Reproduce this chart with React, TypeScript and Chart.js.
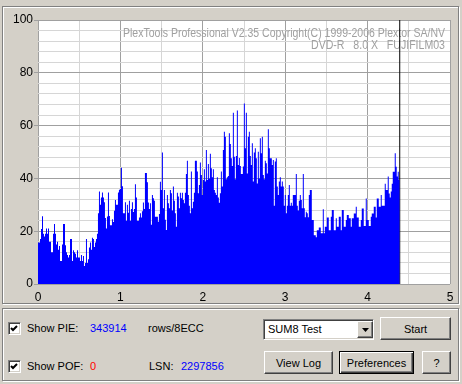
import React, { useEffect, useRef } from "react";
import { Chart, registerables } from "chart.js";

Chart.register(...registerables);

// ---- Data (PIE sum8 per position) ----
const X_MIN = 0;
const X_MAX = 5;
const Y_MIN = 0;
const Y_MAX = 100;
const END_POSITION = 4.39; // black marker line / end of scanned data

const xTickLabels = ["0", "1", "2", "3", "4", "5"];
const yTickLabels = ["0", "20", "40", "60", "80", "100"];

const pieStart = [
  15.7, 17, 20.8, 25.7, 19, 18, 19, 21, 19, 21,
  16, 16, 12, 12, 19, 22.7, 19, 15, 16, 13,
  14.4, 8.7, 8.7, 15, 22.7, 22.7, 14.7, 12, 11, 10,
  11, 17, 17, 8.7, 12.8, 12, 11.5, 10, 12.8, 10,
  10, 8.7, 11, 8.7, 10.6, 6.8, 8, 17, 8, 9.4,
  13.8, 15.7, 13, 17.5, 17, 14, 15.7, 17, 19, 26.8,
  35, 30, 32.8, 34.7, 32.8, 31, 25, 21, 25.6, 34.7,
  25.8, 22.3, 22.3, 24.5, 23.5, 27.7, 31.8, 30, 30, 34.7,
  35.7, 36, 44, 37, 26.8, 26.8, 31, 24, 30, 27,
  31.5, 24, 28.4, 31, 27.3, 28.4, 37.8, 32.8, 24, 24,
  25.2, 26.8, 25.2, 27.6, 30.9, 28.4, 42, 42, 38.5, 30.9,
  28.4,
];

const pieMiddle = [
  30.6, 22.4, 33.7, 32.5, 31.5, 25.5, 25.5, 25.5, 23.6, 26.5,
  38.7, 35.6, 49.8, 28.7, 35.6, 24.3, 20.5, 33.7, 30.6, 28.7,
  35.6, 34.4, 27.8, 36.9, 31.5, 26.8, 21.7, 34.6, 33.1, 28.7,
  34.6, 32.5, 34.6, 31.8, 30.6, 34.6, 41.7, 46.7, 33.7, 29.6,
  26.8, 42.6, 28.7, 31.2, 34.6, 46.7, 46.7, 42.6, 34.4, 37.5,
  46, 41.3, 33.7, 39.4, 43.5, 38.8, 50.8, 39.4, 45.5, 40,
  49.3, 43.8, 40.4, 43.5, 35.6, 34.6, 33.7, 40.4, 32.8, 30.8,
  34.4, 42.6, 36.9, 50.8, 57.7, 55.8, 39.7, 40.4, 40.9, 57.1,
  53, 47.6, 44.7, 64.9, 48.2, 39.7, 48.5, 65.7, 45.1, 47.7,
  44.7, 41.7, 41.7, 44.5, 68.4, 51.4, 64.9, 41.9, 55.8, 57.7,
  48.5, 45.1, 53.3, 38.8, 49.8, 51.4, 47.6, 38.1, 50.1, 40,
  55.2, 49.5, 55.8, 41.3, 39.7, 46.7, 45.7, 41.9, 58.6, 51.4,
  47.6, 47.6, 45.1, 47, 29.6, 46.4, 47.6, 36.9, 33.7, 38.8,
  40.4, 36.9, 38.8, 36.9, 29.6, 33.7, 26.8, 29.6, 33.7, 37.5,
  29.6, 30.8, 29.6, 33.7, 33.7, 33.7, 41.7, 29.6, 27.8, 31.5,
  33.7, 31.8, 28.7, 41.7, 28.7, 25.3, 27.4, 26.8, 25.3, 33.7,
];

const pieLate = [
  35.6, 35.6, 24.2, 24.2, 18.5, 18.5, 17.7, 20.4, 20.4, 21.4,
  21.4, 19.2, 19.2, 28.3, 19.2, 21.7, 21.7,
  25.2, 25.2, 20.4, 20.4, 25.5, 28, 28, 20.4, 20.4, 24.9,
  21.7, 21.7, 25.5, 25.5, 20.4, 28, 28, 21.7, 21.7, 24.2,
  26.1, 26.1, 24.9, 24.9, 21.7, 24.9, 24.9, 26.7, 26.7, 29.3,
  25.2, 25.2, 21.7, 21.7, 24.2, 28.6, 28.6, 22, 22, 32.4,
  24.2, 24.2, 22, 22, 25.5, 26.7, 26.7, 29.3, 29.3, 25.2,
  32.4, 32.4, 29.3, 29.3,
];

const pieEnd = [
  33.7, 29.6, 29.6, 29.6, 38, 35.6, 35.6, 40.7, 34.3, 32.8,
  35, 38, 42.5, 42.5, 49.5, 44.4, 40.7, 42.5, 39.4, 45.4,
];

const titleLine1 = "PlexTools Professional V2.35 Copyright(C) 1999-2006 Plextor SA/NV";
const titleLine2 = "DVD-R   8.0 X   FUJIFILM03";

const PIE_TOTAL = "343914";
const POF_TOTAL = "0";
const LSN_VALUE = "2297856";

// ---- Styles ----
const FACE = "#D4D0C8";
const GRID_MAJOR = "#A0A0A0";
const GRID_MINOR = "#D6D6D6";
const UI_FONT = "'Liberation Sans', Arial, sans-serif";

const raised: React.CSSProperties = {
  position: "absolute",
  boxSizing: "border-box",
  background: FACE,
  borderStyle: "solid",
  borderWidth: 1,
  borderColor: "#FFFFFF #404040 #404040 #FFFFFF",
  boxShadow: "inset -1px -1px 0 #808080",
  display: "flex",
  alignItems: "center",
  justifyContent: "center",
  fontFamily: UI_FONT,
  fontSize: 11,
  color: "#000",
};

const sunken: React.CSSProperties = {
  position: "absolute",
  boxSizing: "border-box",
  background: "#FFFFFF",
  borderStyle: "solid",
  borderWidth: 1,
  borderColor: "#808080 #FFFFFF #FFFFFF #808080",
  boxShadow: "inset 1px 1px 0 #404040, inset -1px -1px 0 " + FACE,
};

function Etched({ x, y, w, h }: { x: number; y: number; w: number; h: number }) {
  return (
    <>
      <div style={{ position: "absolute", left: x + 1, top: y + 1, width: w - 1, height: h - 1, border: "1px solid #FFFFFF", boxSizing: "border-box" }} />
      <div style={{ position: "absolute", left: x, top: y, width: w - 1, height: h - 1, border: "1px solid #808080", boxSizing: "border-box" }} />
    </>
  );
}

function CheckBox({ x, y }: { x: number; y: number }) {
  return (
    <div style={{ ...sunken, left: x, top: y, width: 13, height: 13 }}>
      <svg width="11" height="11" style={{ position: "absolute", left: 0, top: 0 }}>
        <polyline points="2,5 4,7 8,3" fill="none" stroke="#000" strokeWidth="2" />
      </svg>
    </div>
  );
}

function Label({ x, y, text, color }: { x: number; y: number; text: string; color?: string }) {
  return (
    <div style={{ position: "absolute", left: x, top: y - 7, height: 14, lineHeight: "14px", fontFamily: UI_FONT, fontSize: 11, color: color || "#000", whiteSpace: "pre" }}>
      {text}
    </div>
  );
}

function PieChart() {
  const ref = useRef<HTMLCanvasElement | null>(null);
  useEffect(() => {
    if (!ref.current) return;
    const pie = [...pieStart, ...pieMiddle, ...pieLate, ...pieEnd];
    const step = END_POSITION / pie.length;
    const pieData = [{ x: 0, y: pie[0] }, ...pie.map((v, i) => ({ x: (i + 1) * step, y: v }))];

    const bgPlugin = {
      id: "plexBg",
      beforeDraw(chart: any) {
        const { ctx, chartArea: a } = chart;
        ctx.save();
        ctx.fillStyle = "#FFFFFF";
        ctx.fillRect(a.left, a.top, a.right - a.left, a.bottom - a.top);
        ctx.restore();
      },
      beforeDatasetsDraw(chart: any) {
        const { ctx, chartArea: a } = chart;
        ctx.save();
        ctx.fillStyle = "#A0A0A0";
        ctx.font = "13px 'Liberation Sans', Arial, sans-serif";
        ctx.textAlign = "right";
        ctx.textBaseline = "alphabetic";
        ctx.fillText(titleLine1, a.right - 5, a.top + 17, 322);
        ctx.fillText(titleLine2, a.right - 5, a.top + 29, 134);
        ctx.restore();
      },
    };

    const isMajorX = (v: number) => Math.abs(v - Math.round(v)) < 1e-6;
    const isMajorY = (v: number) => Math.round(v) % 20 === 0;

    const chart = new Chart(ref.current, {
      type: "line",
      data: {
        datasets: [
          {
            data: pieData,
            stepped: "before",
            fill: "origin",
            backgroundColor: "#0000FF",
            borderColor: "rgba(0,0,0,0)",
            borderWidth: 0,
            pointRadius: 0,
          },
          {
            data: [
              { x: END_POSITION, y: Y_MIN },
              { x: END_POSITION, y: Y_MAX },
            ],
            borderColor: "#000000",
            borderWidth: 1,
            pointRadius: 0,
            fill: false,
          },
        ],
      },
      options: {
        animation: false,
        responsive: false,
        devicePixelRatio: 1,
        events: [],
        layout: { padding: { left: 0, top: 20, right: 12, bottom: 0 } },
        plugins: { legend: { display: false }, tooltip: { enabled: false } },
        scales: {
          x: {
            type: "linear",
            min: X_MIN,
            max: X_MAX,
            afterFit: (s: any) => {
              s.height = 21;
            },
            ticks: {
              stepSize: 0.5,
              autoSkip: false,
              maxRotation: 0,
              padding: 6,
              color: "#000",
              font: { family: "'Liberation Sans', Arial, sans-serif", size: 12 },
              callback: (v: any) => (isMajorX(Number(v)) ? xTickLabels[Math.round(Number(v))] : ""),
            },
            grid: {
              drawTicks: false,
              color: (c: any) => (isMajorX(c.tick.value) ? GRID_MAJOR : GRID_MINOR),
            },
            border: { display: false },
          },
          y: {
            min: Y_MIN,
            max: Y_MAX,
            afterFit: (s: any) => {
              s.width = 38;
            },
            ticks: {
              stepSize: 4,
              autoSkip: false,
              padding: 1,
              color: "#000",
              font: { family: "'Liberation Sans', Arial, sans-serif", size: 12 },
              callback: (v: any) => (isMajorY(Number(v)) ? yTickLabels[Math.round(Number(v)) / 20] : ""),
            },
            grid: {
              tickLength: 4,
              color: (c: any) => (isMajorY(c.tick.value) ? GRID_MAJOR : GRID_MINOR),
              tickColor: (c: any) => (isMajorY(c.tick.value) ? GRID_MAJOR : "rgba(0,0,0,0)"),
            },
            border: { display: false },
          },
        },
      },
      plugins: [bgPlugin],
    } as any);
    return () => chart.destroy();
  }, []);
  return <canvas ref={ref} width={462} height={305} style={{ position: "absolute", left: 0, top: 0, width: 462, height: 305 }} />;
}

export default function App() {
  return (
    <div style={{ position: "absolute", left: 0, top: 0, width: 462, height: 384, background: FACE, overflow: "hidden" }}>
      <Etched x={2} y={6} w={458} h={299} />
      <PieChart />
      <Etched x={2} y={308} w={458} h={74} />

      <CheckBox x={8} y={322} />
      <Label x={27} y={328} text="Show PIE:" />
      <Label x={90} y={328} text={PIE_TOTAL} color="#0000FF" />
      <Label x={148} y={328} text="rows/8ECC" />

      <CheckBox x={8} y={360} />
      <Label x={27} y={366} text="Show POF:" />
      <Label x={90} y={366} text={POF_TOTAL} color="#FF0000" />
      <Label x={149} y={366} text="LSN:" />
      <Label x={181} y={366} text={LSN_VALUE} color="#0000FF" />

      <div style={{ ...sunken, left: 263, top: 319, width: 111, height: 21 }}>
        <div style={{ position: "absolute", left: 4, top: 2, lineHeight: "15px", fontFamily: UI_FONT, fontSize: 11, color: "#000" }}>SUM8 Test</div>
        <div style={{ ...raised, left: 93, top: 1, width: 16, height: 17 }}>
          <svg width="7" height="4"><polygon points="0,0 7,0 3.5,4" fill="#000" /></svg>
        </div>
      </div>

      <div style={{ ...raised, left: 380, top: 317, width: 71, height: 23 }}>Start</div>
      <div style={{ ...raised, left: 264, top: 351, width: 69, height: 23 }}>View Log</div>
      <div style={{ ...raised, left: 339, top: 351, width: 75, height: 23, border: "1px solid #000", boxShadow: "inset 1px 1px 0 #FFFFFF, inset -1px -1px 0 #404040, inset -2px -2px 0 #808080" }}>Preferences</div>
      <div style={{ ...raised, left: 422, top: 351, width: 29, height: 23 }}>?</div>
    </div>
  );
}
